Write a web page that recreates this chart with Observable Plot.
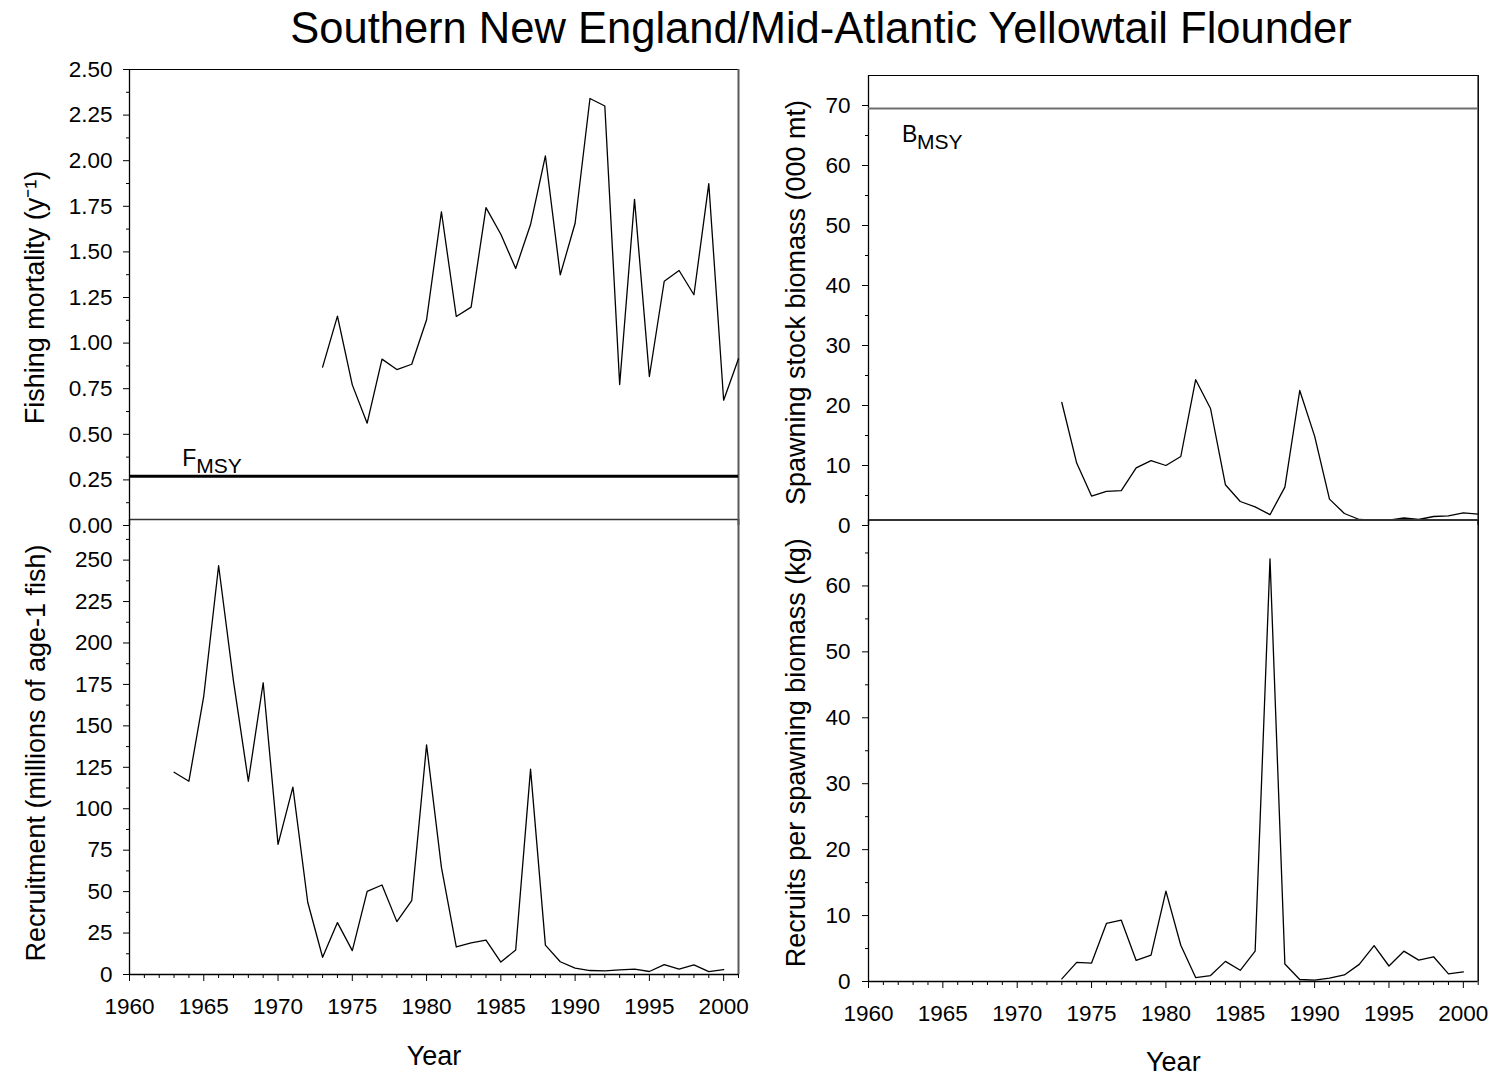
<!DOCTYPE html>
<html>
<head>
<meta charset="utf-8">
<script src="https://cdn.jsdelivr.net/npm/d3@7"></script>
<script src="https://cdn.jsdelivr.net/npm/@observablehq/plot@0.6"></script>
<style>
  html, body { margin: 0; padding: 0; background: white; }
  #wrap { position: relative; width: 1494px; height: 1076px; background: white; overflow: hidden;
          font-family: "Liberation Sans", Arial, sans-serif; }
  #title { position: absolute; left: 0; width: 1642px; top: 6px; text-align: center;
           font-size: 43.5px; line-height: 44px; color: #000; white-space: nowrap; }
  #wrap svg { position: absolute; left: 0; top: 0; }
</style>
</head>
<body>
<div id="wrap">
  <div id="title">Southern New England/Mid-Atlantic Yellowtail Flounder</div>
</div>
<script>
// ---------------- data ----------------
const titleText = "Southern New England/Mid-Atlantic Yellowtail Flounder";

const fYears = [1973,1974,1975,1976,1977,1978,1979,1980,1981,1982,1983,1984,1985,1986,1987,1988,1989,1990,1991,1992,1993,1994,1995,1996,1997,1998,1999,2000,2001];
const fValues = [0.868,1.148,0.771,0.561,0.912,0.855,0.884,1.128,1.72,1.146,1.197,1.743,1.597,1.409,1.65,2.026,1.374,1.657,2.341,2.30,0.773,1.788,0.817,1.339,1.398,1.265,1.874,0.687,0.914];
const fMSY = 0.27;

const recYears = [1963,1964,1965,1966,1967,1968,1969,1970,1971,1972,1973,1974,1975,1976,1977,1978,1979,1980,1981,1982,1983,1984,1985,1986,1987,1988,1989,1990,1991,1992,1993,1994,1995,1996,1997,1998,1999,2000];
const recValues = [122,116.6,168,246.6,177,116.6,176,78.5,113,43.6,10.4,31.3,14.4,50.2,54,31.9,44.5,138.5,64.6,16.6,19.1,20.8,7.5,14.8,123.9,17.7,7.7,3.8,2.4,2.2,2.8,3.2,1.8,6.0,3.2,5.8,1.7,3.0];

const ssbYears = [1973,1974,1975,1976,1977,1978,1979,1980,1981,1982,1983,1984,1985,1986,1987,1988,1989,1990,1991,1992,1993,1994,1995,1996,1997,1998,1999,2000,2001];
const ssbValues = [20.5,10.4,4.9,5.7,5.8,9.6,10.8,10.0,11.5,24.3,19.5,6.8,4.0,3.1,1.8,6.4,22.5,14.9,4.4,2.0,1.0,0.9,0.9,1.25,1.0,1.5,1.6,2.1,1.9];
const bMSY = 69.5;

const rpsYears = [1973,1974,1975,1976,1977,1978,1979,1980,1981,1982,1983,1984,1985,1986,1987,1988,1989,1990,1991,1992,1993,1994,1995,1996,1997,1998,1999,2000];
const rpsValues = [0.4,2.9,2.8,8.8,9.3,3.2,4.0,13.7,5.5,0.6,0.9,3.05,1.7,4.6,64.1,2.65,0.3,0.2,0.5,1.0,2.6,5.45,2.35,4.6,3.25,3.75,1.15,1.45];

const yearMajor = [1960,1965,1970,1975,1980,1985,1990,1995,2000];
const yearMinor = [1961,1962,1963,1964,1966,1967,1968,1969,1971,1972,1973,1974,1976,1977,1978,1979,1981,1982,1983,1984,1986,1987,1988,1989,1991,1992,1993,1994,1996,1997,1998,1999,2001];

const fTicks = [0,0.25,0.5,0.75,1,1.25,1.5,1.75,2,2.25,2.5];
const fMinor = [0.125,0.375,0.625,0.875,1.125,1.375,1.625,1.875,2.125,2.375];
const recTicks = [0,25,50,75,100,125,150,175,200,225,250];
const recMinor = [12.5,37.5,62.5,87.5,112.5,137.5,162.5,187.5,212.5,237.5,262.5];
const ssbTicks = [0,10,20,30,40,50,60,70];
const ssbMinor = [5,15,25,35,45,55,65];
const rpsTicks = [0,10,20,30,40,50,60];
const rpsMinor = [5,15,25,35,45,55,65];

const labels = {
  f: "Fishing mortality (y\u207B\u00B9)",
  rec: "Recruitment (millions of age-1 fish)",
  ssb: "Spawning stock biomass (000 mt)",
  rps: "Recruits per spawning biomass (kg)",
  year: "Year"
};

// --------------- layout ---------------
const W = 1494, H = 1076;
const FONT = "Liberation Sans, Arial, sans-serif";
const baseStyle = {background: "transparent", overflow: "visible", fontFamily: FONT, fontSize: "22px", color: "black"};
const rows = (xs, ys) => xs.map((x, i) => ({year: x, value: ys[i]}));

const wrap = document.getElementById("wrap");
function add(svg) { wrap.appendChild(svg); }

const L = {left: 129, right: 738};
const R = {left: 868, right: 1477.7};
const TICK_FS = 22.5;

// Top-left: fishing mortality
add(Plot.plot({
  width: W, height: H,
  marginLeft: L.left, marginRight: W - L.right, marginTop: 69, marginBottom: H - 525,
  style: baseStyle,
  x: {domain: [1960, 2001], axis: null},
  y: {domain: [0, 2.5], axis: null},
  marks: [
    Plot.ruleY([2.5], {stroke: "black", strokeWidth: 1.2}),
    Plot.ruleX([2001], {stroke: "#5a5a5a", strokeWidth: 2}),
    Plot.ruleX([1960], {stroke: "black", strokeWidth: 1.3}),
    Plot.ruleY([fMSY], {stroke: "black", strokeWidth: 3.2}),
    Plot.lineY(rows(fYears, fValues), {x: "year", y: "value", stroke: "black", strokeWidth: 1.3}),
    Plot.axisY({anchor: "left", ticks: fTicks, tickSize: 6, tickPadding: 11, tickFormat: d3.format(".2f"), fontSize: TICK_FS, label: null}),
    Plot.axisY({anchor: "left", ticks: fMinor, tickSize: 3, tickFormat: () => "", label: null}),
    Plot.text(["F"], {x: 1963.55, y: 0.325, textAnchor: "start", lineAnchor: "bottom", fontSize: 23}),
    Plot.text(["MSY"], {x: 1963.55, y: 0.325, dx: 14, dy: 7, textAnchor: "start", lineAnchor: "bottom", fontSize: 21}),
    Plot.text([labels.f], {frameAnchor: "left", textAnchor: "middle", rotate: -90, dx: -94, fontSize: 27})
  ]
}));

// Bottom-left: recruitment
add(Plot.plot({
  width: W, height: H,
  marginLeft: L.left, marginRight: W - L.right, marginTop: 519, marginBottom: H - 974,
  style: baseStyle,
  x: {domain: [1960, 2001]},
  y: {domain: [0, 274.5]},
  marks: [
    Plot.ruleY([274.5], {stroke: "#333", strokeWidth: 1.6}),
    Plot.ruleX([2001], {stroke: "#5a5a5a", strokeWidth: 2}),
    Plot.ruleX([1960], {stroke: "black", strokeWidth: 1.3}),
    Plot.ruleY([0], {stroke: "black", strokeWidth: 1.3}),
    Plot.lineY(rows(recYears, recValues), {x: "year", y: "value", stroke: "black", strokeWidth: 1.3}),
    Plot.axisY({anchor: "left", ticks: recTicks, tickSize: 6, tickPadding: 11, tickFormat: d3.format("d"), fontSize: TICK_FS, label: null}),
    Plot.axisY({anchor: "left", ticks: recMinor, tickSize: 3, tickFormat: () => "", label: null}),
    Plot.axisX({anchor: "bottom", ticks: yearMajor, tickSize: 7, tickPadding: 17, tickFormat: d3.format("d"), fontSize: TICK_FS, label: null}),
    Plot.axisX({anchor: "bottom", ticks: yearMinor, tickSize: 4, tickFormat: () => "", label: null}),
    Plot.text([labels.rec], {frameAnchor: "left", textAnchor: "middle", rotate: -90, dx: -93, dy: 6, fontSize: 27}),
    Plot.text([labels.year], {frameAnchor: "bottom", dy: 90, lineAnchor: "bottom", fontSize: 27})
  ]
}));

// Top-right: spawning stock biomass
add(Plot.plot({
  width: W, height: H,
  marginLeft: R.left, marginRight: W - R.right, marginTop: 75, marginBottom: H - 525,
  style: baseStyle,
  x: {domain: [1960, 2001], axis: null},
  y: {domain: [0, 75], axis: null},
  marks: [
    Plot.ruleY([75], {stroke: "black", strokeWidth: 1.2}),
    Plot.ruleX([2001], {stroke: "black", strokeWidth: 1.5}),
    Plot.ruleX([1960], {stroke: "black", strokeWidth: 1.3}),
    Plot.ruleY([bMSY], {stroke: "#6e6e6e", strokeWidth: 1.8}),
    Plot.lineY(rows(ssbYears, ssbValues), {x: "year", y: "value", stroke: "black", strokeWidth: 1.3}),
    Plot.axisY({anchor: "left", ticks: ssbTicks, tickSize: 6, tickPadding: 12, tickFormat: d3.format("d"), fontSize: TICK_FS, label: null}),
    Plot.axisY({anchor: "left", ticks: ssbMinor, tickSize: 3, tickFormat: () => "", label: null}),
    Plot.text(["B"], {x: 1962.25, y: 63.9, textAnchor: "start", lineAnchor: "bottom", fontSize: 23}),
    Plot.text(["MSY"], {x: 1962.25, y: 63.9, dx: 15, dy: 7, textAnchor: "start", lineAnchor: "bottom", fontSize: 21}),
    Plot.text([labels.ssb], {frameAnchor: "left", textAnchor: "middle", rotate: -90, dx: -72, dy: 2, fontSize: 27})
  ]
}));

// Bottom-right: recruits per spawning biomass
add(Plot.plot({
  width: W, height: H,
  marginLeft: R.left, marginRight: W - R.right, marginTop: 519.5, marginBottom: H - 981,
  style: baseStyle,
  x: {domain: [1960, 2001]},
  y: {domain: [0, 70]},
  marks: [
    Plot.ruleY([70], {stroke: "#333", strokeWidth: 1.8}),
    Plot.ruleX([2001], {stroke: "black", strokeWidth: 1.5}),
    Plot.ruleX([1960], {stroke: "black", strokeWidth: 1.3}),
    Plot.ruleY([0], {stroke: "black", strokeWidth: 1.3}),
    Plot.lineY(rows(rpsYears, rpsValues), {x: "year", y: "value", stroke: "black", strokeWidth: 1.3}),
    Plot.axisY({anchor: "left", ticks: rpsTicks, tickSize: 6, tickPadding: 12, tickFormat: d3.format("d"), fontSize: TICK_FS, label: null}),
    Plot.axisY({anchor: "left", ticks: rpsMinor, tickSize: 3, tickFormat: () => "", label: null}),
    Plot.axisX({anchor: "bottom", ticks: yearMajor, tickSize: 7, tickPadding: 17, tickFormat: d3.format("d"), fontSize: TICK_FS, label: null}),
    Plot.axisX({anchor: "bottom", ticks: yearMinor, tickSize: 4, tickFormat: () => "", label: null}),
    Plot.text([labels.rps], {frameAnchor: "left", textAnchor: "middle", rotate: -90, dx: -72, dy: 2, fontSize: 27}),
    Plot.text([labels.year], {frameAnchor: "bottom", dy: 89, lineAnchor: "bottom", fontSize: 27})
  ]
}));
</script>
</body>
</html>
